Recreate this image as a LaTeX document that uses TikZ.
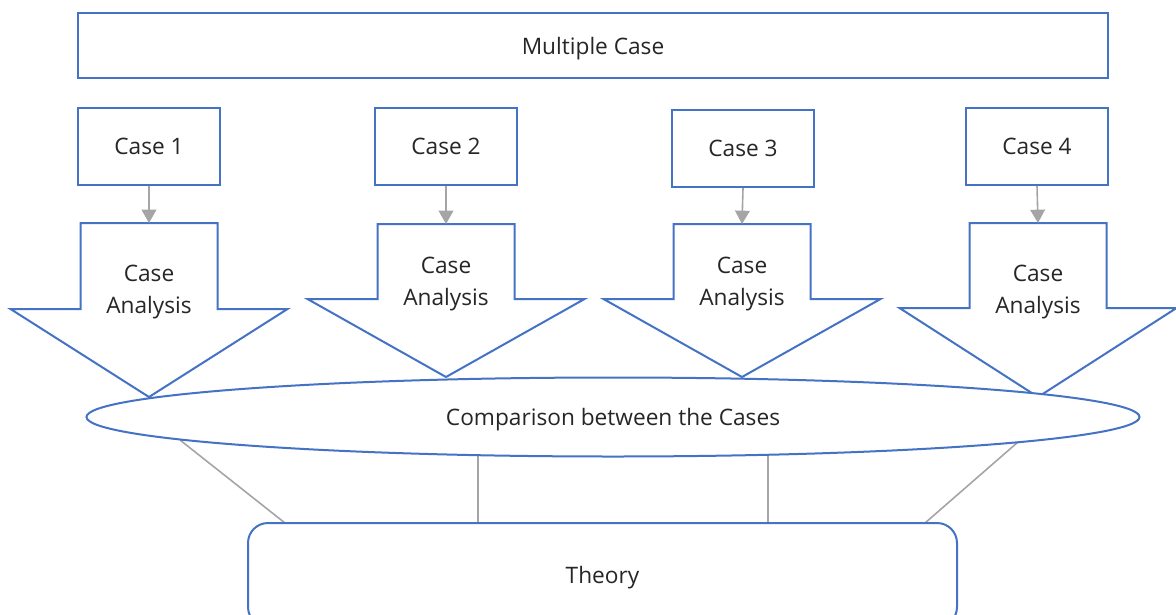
\documentclass[tikz,border=0pt]{standalone}
\usepackage{fontspec}
\setmainfont{Open Sans}
\usetikzlibrary{shapes.geometric,arrows.meta}
\definecolor{boxblue}{HTML}{4472C4}
\definecolor{linegray}{HTML}{A5A5A5}
\definecolor{txtgray}{HTML}{262626}

\tikzset{
  box/.style={draw=boxblue, line width=1.5pt, fill=white, inner sep=0pt, text=txtgray, text depth=0pt},
  down/.style={draw=boxblue, line width=1.5pt, fill=white, line join=miter},
  link/.style={draw=linegray, line width=1.2pt},
  feed/.style={link, -{Triangle[width=11pt,length=10pt]}}
}

\begin{document}
\begin{tikzpicture}[x=0.75pt, y=-0.75pt, font=\fontsize{17}{24}\selectfont]
\useasboundingbox (0,0) rectangle (1176,614);

\node[box, minimum width=772.5pt, minimum height=48.75pt] (multi) at (593,45.5) {Multiple Case};

\node[box, minimum width=106.5pt, minimum height=57.75pt] (c1) at (149,146.5) {Case 1};
\node[box, minimum width=106.5pt, minimum height=57.75pt] (c2) at (446,146) {Case 2};
\node[box, minimum width=106.5pt, minimum height=57.75pt] (c3) at (743,148.5) {Case 3};
\node[box, minimum width=106.5pt, minimum height=57.75pt] (c4) at (1037,146.5) {Case 4};

\foreach \n/\x/\t/\s/\p/\m in {1/149/223/309/397/292, 2/446/224/299/377/284, 3/742/224/299/377/284, 4/1038/223/308/397/292} {
  \draw[down] (\x-68.5,\t) -- (\x+68.5,\t) -- (\x+68.5,\s) -- (\x+138.5,\s) -- (\x,\p)
    -- (\x-138.5,\s) -- (\x-68.5,\s) -- cycle;
  \node[align=center, text=txtgray] (ca\n) at (\x,\m) {Case\\Analysis};
  \coordinate (top\n) at (\x,\t);
  \draw[feed] (c\n.south) -- (top\n);
}

\coordinate (e1) at (180,440);
\coordinate (e2) at (478,456);
\coordinate (e3) at (768,456);
\coordinate (e4) at (1018,442);
\coordinate (t1) at (285,523);
\coordinate (t4) at (925,523);

\draw[link] (e1) -- (t1);
\draw[link] (e2) -- (e2 |- t1);
\draw[link] (e3) -- (e3 |- t1);
\draw[link] (e4) -- (t4);

\node[box, ellipse, minimum width=789.75pt, minimum height=59.25pt] (cmp) at (613,417) {Comparison between the Cases};

\node[box, rounded corners=15pt, minimum width=531.75pt, minimum height=78pt] (th) at (602.5,575) {Theory};

\end{tikzpicture}
\end{document}
